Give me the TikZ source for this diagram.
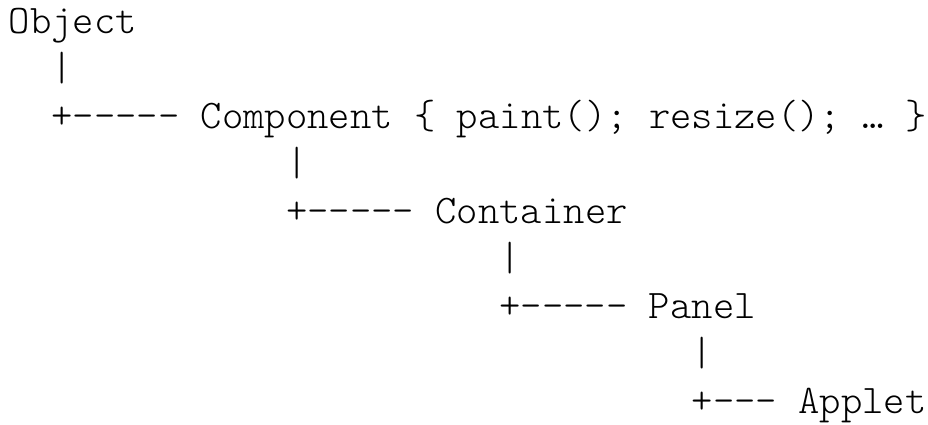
\documentclass[tikz,border=0pt]{standalone}
\usepackage{fontspec}
\setmonofont{lmmonolt10-regular.otf}
\tikzset{
  line/.style={anchor=base west, inner sep=0pt, font=\fontsize{30.48}{34}\selectfont\ttfamily}
}
\begin{document}
\begin{tikzpicture}[x=16pt, y=-35.625pt]
  \useasboundingbox (-0.406,-0.695) rectangle (43.09,8.232);

  % one unit = one character column / one text row
  \node[line] (obj) at (0,0) {Object};
  \node[line] (bar1) at (2,1) {|};
  \node[line] (br1) at (2,2) {+-----};
  \node[line] (comp) at (9,2) {Component \{ paint(); resize(); … \}};

  \node[line] (bar2) at (13,3) {|};
  \node[line] (br2) at (13,4) {+-----};
  \node[line] (cont) at (20,4) {Container};

  \node[line] (bar3) at (23,5) {|};
  \node[line] (br3) at (23,6) {+-----};
  \node[line] (panel) at (30,6) {Panel};

  \node[line] (bar4) at (32,7) {|};
  \node[line] (br4) at (32,8) {+---};
  \node[line] (applet) at (37,8) {Applet};
\end{tikzpicture}
\end{document}
